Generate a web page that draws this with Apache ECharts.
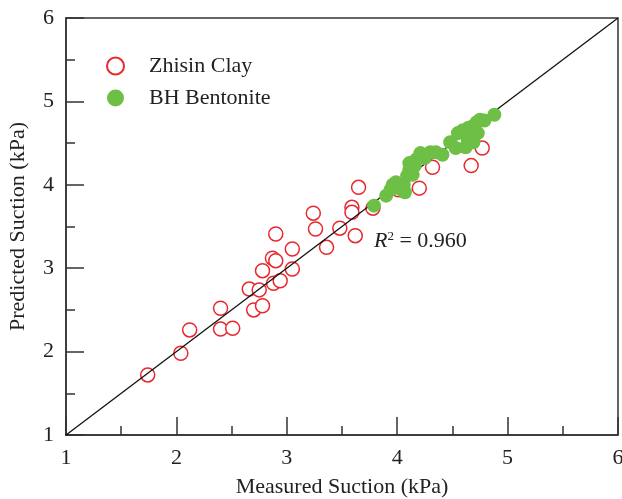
<!DOCTYPE html>
<html>
<head>
<meta charset="utf-8">
<script src="https://cdn.jsdelivr.net/npm/echarts@6/dist/echarts.min.js"></script>
<style>
  html, body { margin: 0; padding: 0; background: #fff; }
  #chart { width: 622px; height: 499px; }
</style>
</head>
<body>
<div id="chart"></div>
<script>
// measured vs predicted suction (kPa)
const clayMeasured = [1.74, 2.04, 2.12, 2.40, 2.40, 2.51, 2.66, 2.70, 2.75, 2.78, 2.78, 2.87, 2.88, 2.90, 2.90, 2.94,
  3.05, 3.05, 3.24, 3.26, 3.36, 3.48, 3.59, 3.59, 3.62, 3.65, 3.78, 4.01, 4.20, 4.32, 4.67, 4.77];
const clayPredicted = [1.72, 1.98, 2.26, 2.52, 2.27, 2.28, 2.75, 2.50, 2.74, 2.55, 2.97, 3.12, 2.82, 3.09, 3.41, 2.85,
  2.99, 3.23, 3.66, 3.47, 3.25, 3.48, 3.73, 3.67, 3.39, 3.97, 3.72, 3.94, 3.96, 4.21, 4.23, 4.44];

const bentMeasured = [3.79, 3.90, 3.94, 3.96, 3.99, 4.03, 4.06, 4.07, 4.09, 4.11, 4.11, 4.14, 4.16, 4.17, 4.20, 4.21,
  4.25, 4.30, 4.35, 4.41, 4.48, 4.53, 4.55, 4.59, 4.62, 4.64, 4.64, 4.68, 4.69, 4.73, 4.72, 4.75, 4.79, 4.88];
const bentPredicted = [3.75, 3.87, 3.94, 4.00, 4.03, 3.95, 4.00, 3.91, 4.11, 4.18, 4.26, 4.12, 4.23, 4.30, 4.33, 4.38,
  4.32, 4.39, 4.39, 4.36, 4.51, 4.44, 4.62, 4.65, 4.45, 4.54, 4.68, 4.70, 4.51, 4.62, 4.75, 4.78, 4.77, 4.84];

const lineOfEquality = [[1, 1], [6, 6]];

const font = '"Liberation Serif", "Times New Roman", serif';

const zip = (a, b) => a.map((v, i) => [v, b[i]]);

const chart = echarts.init(document.getElementById('chart'));

function axis(name, gap) {
  return {
    type: 'value',
    min: 1,
    max: 6,
    interval: 1,
    name: name,
    nameLocation: 'middle',
    nameGap: gap,
    nameTextStyle: { fontFamily: font, fontSize: 22, color: '#222' },
    axisLine: { show: true, lineStyle: { color: '#333', width: 1.5 } },
    axisTick: { show: true, inside: true, length: 18, lineStyle: { color: '#333', width: 1.5 } },
    minorTick: { show: true, splitNumber: 2, length: 9, lineStyle: { color: '#333', width: 1.5 } },
    axisLabel: { fontFamily: font, fontSize: 22, color: '#222', margin: 12 },
    splitLine: { show: false }
  };
}

chart.setOption({
  animation: false,
  grid: {
    left: 66, right: 4, top: 18, bottom: 64,
    outerBoundsMode: 'none',
    show: true, borderColor: '#333', borderWidth: 1.5
  },
  xAxis: axis('Measured Suction (kPa)', 41),
  yAxis: axis('Predicted Suction (kPa)', 37),
  legend: {
    orient: 'vertical',
    left: 101,
    top: 50,
    itemWidth: 17,
    itemHeight: 17,
    itemGap: 10,
    data: ['Zhisin Clay', 'BH Bentonite'],
    textStyle: { fontFamily: font, fontSize: 22, color: '#222', padding: [0, 0, 0, 20] }
  },
  graphic: [{
    type: 'text',
    left: 374,
    top: 230,
    style: {
      text: '{r|R}{s|2} = 0.960',
      rich: {
        r: { fontFamily: font, fontSize: 22, fontStyle: 'italic', fill: '#222' },
        s: { fontFamily: font, fontSize: 13, fill: '#222', verticalAlign: 'top', padding: [0, 0, 9, 0] }
      },
      font: '22px ' + font,
      fill: '#222'
    }
  }],
  series: [
    {
      type: 'line',
      data: lineOfEquality,
      symbol: 'none',
      silent: true,
      lineStyle: { color: '#111', width: 1.3 },
      z: 3
    },
    {
      name: 'Zhisin Clay',
      type: 'scatter',
      data: zip(clayMeasured, clayPredicted),
      symbol: 'circle',
      symbolSize: 14,
      itemStyle: { color: '#fff', opacity: 1, borderColor: '#e8282e', borderWidth: 1.5 },
      z: 2
    },
    {
      name: 'BH Bentonite',
      type: 'scatter',
      data: zip(bentMeasured, bentPredicted),
      symbol: 'circle',
      symbolSize: 14,
      itemStyle: { color: '#6dbf45', opacity: 1 },
      z: 4
    }
  ]
});
</script>
</body>
</html>
